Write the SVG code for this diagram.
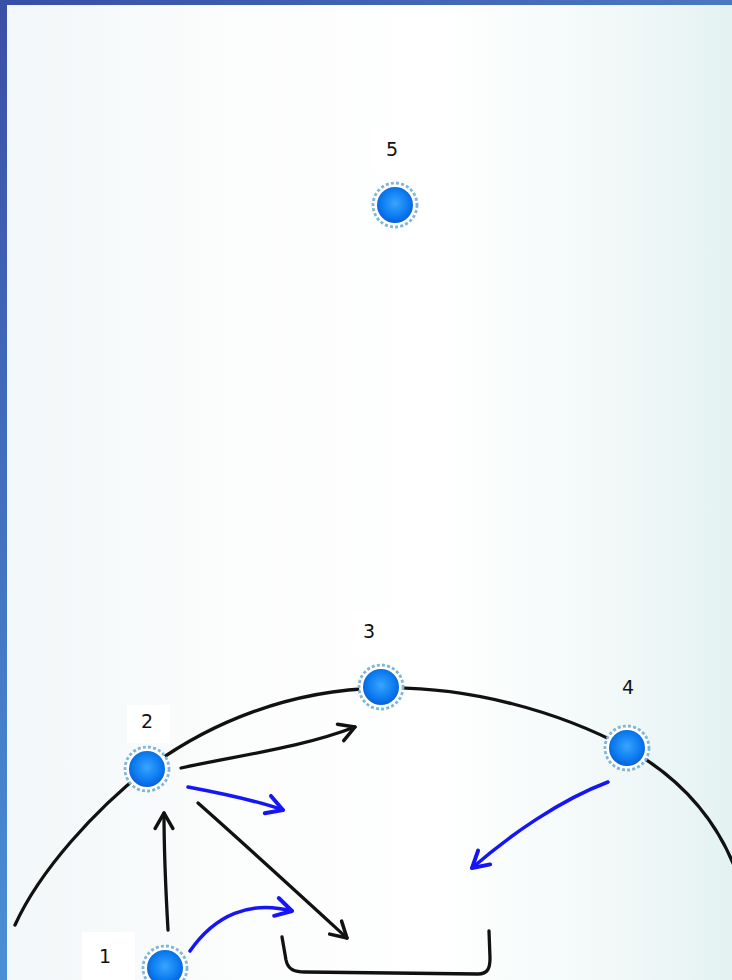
<svg xmlns="http://www.w3.org/2000/svg" width="732" height="980" viewBox="0 0 732 980">
  <defs>
    <linearGradient id="bg" x1="0" y1="0" x2="1" y2="0">
      <stop offset="0" stop-color="#f2f7f9"/>
      <stop offset="0.3" stop-color="#fbfcfc"/>
      <stop offset="0.6" stop-color="#ffffff"/>
      <stop offset="0.85" stop-color="#f1f8f8"/>
      <stop offset="1" stop-color="#e4f2f2"/>
    </linearGradient>
    <linearGradient id="leftBar" x1="0" y1="0" x2="0" y2="1">
      <stop offset="0" stop-color="#3a4fa6"/>
      <stop offset="1" stop-color="#4a8fd6"/>
    </linearGradient>
    <linearGradient id="topBar" x1="0" y1="0" x2="1" y2="0">
      <stop offset="0" stop-color="#384ea6"/>
      <stop offset="1" stop-color="#4a78c0"/>
    </linearGradient>
    <radialGradient id="ball" cx="0.5" cy="0.45" r="0.55">
      <stop offset="0" stop-color="#3aa4ff"/>
      <stop offset="0.7" stop-color="#0a7af0"/>
      <stop offset="1" stop-color="#0a5fd8"/>
    </radialGradient>
    <marker id="arrK" viewBox="0 0 20 20" refX="17" refY="10" markerWidth="22" markerHeight="22" markerUnits="userSpaceOnUse" orient="auto">
      <path d="M3 2 L17 10 L3 18" fill="none" stroke="#111" stroke-width="3.2" stroke-linecap="round" stroke-linejoin="round"/>
    </marker>
    <marker id="arrB" viewBox="0 0 20 20" refX="17" refY="10" markerWidth="23" markerHeight="23" markerUnits="userSpaceOnUse" orient="auto">
      <path d="M3 2 L17 10 L3 18" fill="none" stroke="#1515f5" stroke-width="3.4" stroke-linecap="round" stroke-linejoin="round"/>
    </marker>
  </defs>
  <style>
    .lbl { font-family: "DejaVu Sans", "Liberation Sans", sans-serif; font-size: 19px; fill: #111; text-anchor: middle; }
    .box { fill: #ffffff; }
    .ring { fill: #ffffff; stroke: #7fb6d6; stroke-width: 2.8; stroke-dasharray: 3 2.2; }
    .ball { fill: url(#ball); }
    .k { fill: none; stroke: #111; stroke-width: 3.3; stroke-linecap: round; }
    .b { fill: none; stroke: #1515f5; stroke-width: 3.5; stroke-linecap: round; }
  </style>

  <rect x="0" y="0" width="732" height="980" fill="url(#bg)"/>
  <rect x="0" y="0" width="732" height="5" fill="url(#topBar)"/>
  <rect x="0" y="0" width="7" height="980" fill="url(#leftBar)"/>

  <g id="connectors">
    <path id="arc" class="k" d="M15 925 C40 870, 95 810, 147 769 C210 722, 290 690, 381 688 C470 686, 560 712, 627 748 C670 772, 712 810, 735 868"/>
    <path class="k" d="M181 768 C240 755, 300 748, 355 727" marker-end="url(#arrK)"/>
    <path class="k" d="M168 930 C166 895, 164 850, 164 813" marker-end="url(#arrK)"/>
    <path class="k" d="M198 803 C240 840, 300 895, 347 938" marker-end="url(#arrK)"/>
    <path class="b" d="M188 787 C220 793, 255 800, 283 810" marker-end="url(#arrB)"/>
    <path class="b" d="M190 951 C215 915, 250 900, 292 911" marker-end="url(#arrB)"/>
    <path class="b" d="M608 782 C560 800, 510 835, 472 868" marker-end="url(#arrB)"/>
    <path class="k" d="M282 937 L286 960 C288 970, 295 972, 305 972 L478 974 C488 974, 490 968, 490 958 L489 931"/>
  </g>

  <g id="node5">
    <rect class="box" x="372" y="130" width="40" height="40"/>
    <text class="lbl" x="392" y="156">5</text>
    <circle class="ring" cx="395" cy="205" r="22"/>
    <circle class="ball" cx="395" cy="205" r="18"/>
  </g>
  <g id="node3">
    <rect class="box" x="353" y="612" width="37" height="46"/>
    <text class="lbl" x="369" y="638">3</text>
    <circle class="ring" cx="381" cy="687" r="22"/>
    <circle class="ball" cx="381" cy="687" r="18"/>
  </g>
  <g id="node2">
    <rect class="box" x="127" y="705" width="43" height="38"/>
    <text class="lbl" x="147" y="728">2</text>
    <circle class="ring" cx="147" cy="769" r="22"/>
    <circle class="ball" cx="147" cy="769" r="18"/>
  </g>
  <g id="node4">
    <text class="lbl" x="628" y="694">4</text>
    <circle class="ring" cx="627" cy="748" r="22"/>
    <circle class="ball" cx="627" cy="748" r="18"/>
  </g>
  <g id="node1">
    <rect class="box" x="82" y="932" width="53" height="48"/>
    <text class="lbl" x="105" y="963">1</text>
    <circle class="ring" cx="165" cy="968" r="22"/>
    <circle class="ball" cx="165" cy="968" r="18"/>
  </g>
</svg>
